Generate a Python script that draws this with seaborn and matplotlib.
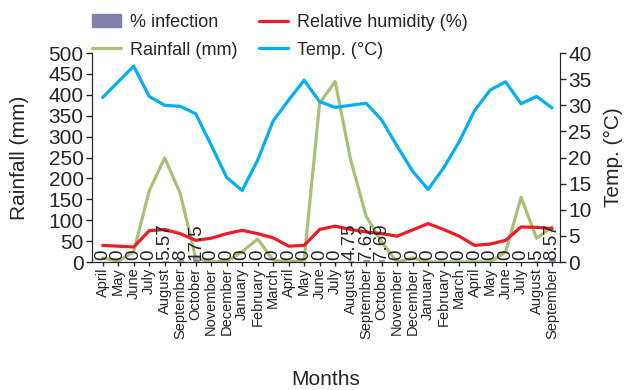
import matplotlib
matplotlib.use("Agg")
import matplotlib.pyplot as plt
from matplotlib.patches import Patch
from matplotlib.lines import Line2D
import numpy as np
import seaborn as sns

# monthly data, April (year 1) to September (year 3)
months = ["April", "May", "June", "July", "August", "September", "October",
          "November", "December", "January", "February", "March",
          "April", "May", "June", "July", "August", "September", "October",
          "November", "December", "January", "February", "March",
          "April", "May", "June", "July", "August", "September"]
infection = [0, 0, 0, 0, 5.57, 8, 17.5, 0, 0, 0, 0, 0,
             0, 0, 0, 0, 4.75, 7.62, 7.69, 0, 0, 0, 0, 0,
             0, 0, 0, 0, 5, 8.57]
rainfall = [10, 2, 25, 170, 249, 165, 10, 0, 2, 25, 55, 5,
            0, 5, 380, 432, 245, 110, 48, 0, 10, 0, 0, 0,
            0, 0, 24, 155, 57, 84]
humidity = [40, 38, 36, 75, 78, 68, 52, 57, 68, 76, 68, 58,
            38, 40, 78, 86, 78, 72, 68, 62, 77, 92, 78, 62,
            40, 43, 52, 84, 83, 80]
temp = [31.5, 34.5, 37.5, 31.7, 30, 29.8, 28.4, 22.4, 16.2, 13.7, 19.5, 27,
        31, 34.8, 30.7, 29.6, 30, 30.4, 27.2, 22.2, 17.4, 13.9, 18, 23,
        29, 32.9, 34.5, 30.3, 31.7, 29.5]

c_inf = "#8080aa"
c_rain = "#a8c07a"
c_rh = "#ee1c25"
c_temp = "#00aeef"

sns.set_style("ticks")
plt.rcParams["font.family"] = ["Liberation Sans", "DejaVu Sans"]

x = np.arange(len(months))

fig = plt.figure(figsize=(6.29, 3.9), dpi=100)
ax = fig.add_axes([0.146, 0.328, 0.744, 0.536])

# left axis: infection bars, rainfall and humidity
sns.barplot(x=x, y=infection, ax=ax, color=c_inf, width=0.5,
            native_scale=True, saturation=1)
sns.lineplot(x=x, y=rainfall, ax=ax, color=c_rain, linewidth=2.3)
sns.lineplot(x=x, y=humidity, ax=ax, color=c_rh, linewidth=2.3)

for i, v in enumerate(infection):
    ax.text(i, 6, f"{v:g}", rotation=90, ha="center", va="bottom", fontsize=13.5)

ax.set_xlim(-0.7, 29.5)
ax.set_ylim(0, 500)
ax.set_yticks(np.arange(0, 501, 50))
ax.set_xticks(x)
ax.set_xticklabels(months, rotation=90, fontsize=10.5)
ax.tick_params(axis="y", labelsize=15, length=4, width=1, pad=2)
ax.tick_params(axis="x", length=3, width=1, pad=1)
ax.set_ylabel("Rainfall (mm)", fontsize=15, labelpad=14)
ax.set_xlabel("Months", fontsize=15, labelpad=22)
ax.spines["top"].set_visible(False)

# right axis: temperature
ax2 = ax.twinx()
sns.lineplot(x=x, y=temp, ax=ax2, color=c_temp, linewidth=2.3)
ax2.set_ylim(0, 40)
ax2.set_yticks(np.arange(0, 41, 5))
ax2.tick_params(axis="y", labelsize=15, length=4, width=1, pad=2)
ax2.set_ylabel("Temp. (°C)", fontsize=15, labelpad=9)
ax2.spines["top"].set_visible(False)

handles = [Patch(color=c_inf), Line2D([], [], color=c_rain, lw=2.3),
           Line2D([], [], color=c_rh, lw=2.3), Line2D([], [], color=c_temp, lw=2.3)]
labels = ["% infection", "Rainfall (mm)", "Relative humidity (%)", "Temp. (°C)"]
fig.legend(handles, labels, ncol=2, loc="upper left", bbox_to_anchor=(0.12, 1.006),
           frameon=False, fontsize=13, handlelength=1.6, columnspacing=1.2,
           labelspacing=0.6, handletextpad=0.5)

plt.savefig("out.png", dpi=100)
plt.close()
